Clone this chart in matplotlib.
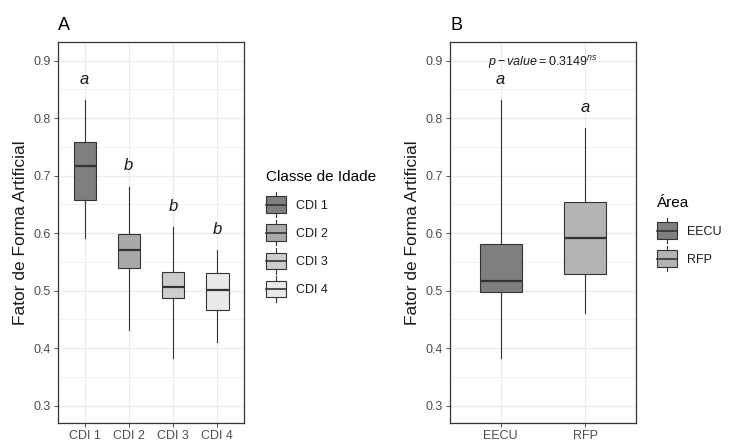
import matplotlib
matplotlib.use("Agg")
import matplotlib.pyplot as plt
from matplotlib.legend_handler import HandlerBase
from matplotlib.patches import Rectangle
from matplotlib.lines import Line2D
from matplotlib.ticker import MultipleLocator

plt.rcParams['font.family'] = ['Liberation Sans', 'DejaVu Sans']
plt.rcParams['mathtext.fontset'] = 'custom'
plt.rcParams['mathtext.rm'] = 'Liberation Sans'
plt.rcParams['mathtext.it'] = 'Liberation Sans:italic'

# ---- data (panel A) ----
classes = ["CDI 1", "CDI 2", "CDI 3", "CDI 4"]
a_whislo = [0.591, 0.432, 0.383, 0.411]
a_q1 = [0.658, 0.539, 0.487, 0.467]
a_med = [0.717, 0.571, 0.507, 0.501]
a_q3 = [0.759, 0.598, 0.532, 0.531]
a_whishi = [0.832, 0.681, 0.611, 0.571]
a_letters = ["a", "b", "b", "b"]
a_colors = ["#7f7f7f", "#a9a9a9", "#cdcdcd", "#e9e9e9"]

# ---- data (panel B) ----
areas = ["EECU", "RFP"]
b_whislo = [0.383, 0.462]
b_q1 = [0.498, 0.529]
b_med = [0.517, 0.591]
b_q3 = [0.582, 0.654]
b_whishi = [0.832, 0.783]
b_letters = ["a", "a"]
b_colors = ["#7f7f7f", "#b3b3b3"]
p_value_text = r'$\mathit{p-value}=0.3149^{\mathit{ns}}$'

y_ticks = [0.3, 0.4, 0.5, 0.6, 0.7, 0.8, 0.9]
ylabel = "Fator de Forma Artificial"

W, H = 729, 443
fig = plt.figure(figsize=(W / 100, H / 100), dpi=100)

EDGE = "#333333"
GRID = "#ebebeb"


class BoxHandler(HandlerBase):
    def __init__(self, color):
        super().__init__()
        self.color = color

    def create_artists(self, legend, orig_handle, xdescent, ydescent, width, height, fontsize, trans):
        cx = -xdescent + width / 2
        cy = -ydescent + height / 2
        h = height * 1.45
        vl = Line2D([cx, cx], [cy - h * 0.75, cy + h * 0.75], color=EDGE, lw=0.8, transform=trans)
        rect = Rectangle((-xdescent, cy - h / 2), width, h, facecolor=self.color, edgecolor=EDGE, lw=0.8,
                         transform=trans)
        ml = Line2D([-xdescent, -xdescent + width], [cy, cy], color=EDGE, lw=1.2, transform=trans)
        return [vl, rect, ml]


def panel(rect, labels, lo, q1, med, q3, hi, colors, letters, tag, legend_title, legend_x, legend_y):
    ax = fig.add_axes(rect)
    n = len(labels)
    stats = []
    for i in range(n):
        stats.append(dict(med=med[i], q1=q1[i], q3=q3[i], whislo=lo[i], whishi=hi[i], fliers=[]))
    pos = list(range(1, n + 1))
    bp = ax.bxp(stats, positions=pos, widths=0.5, patch_artist=True, showcaps=False,
                boxprops=dict(edgecolor=EDGE, linewidth=0.8),
                medianprops=dict(color="#333333", linewidth=1.6),
                whiskerprops=dict(color=EDGE, linewidth=0.8), zorder=3)
    for patch, c in zip(bp['boxes'], colors):
        patch.set_facecolor(c)
    for i in range(n):
        ax.text(pos[i], hi[i] + 0.036, letters[i], ha='center', va='center', style='italic',
                fontsize=12, color='#1a1a1a', zorder=4)
    ax.set_xlim(0.4, n + 0.6)
    ax.set_ylim(0.27, 0.9325)
    ax.set_yticks(y_ticks)
    ax.yaxis.set_minor_locator(MultipleLocator(0.05))
    ax.set_xticks(pos)
    ax.set_xticklabels(labels)
    ax.grid(True, which='major', color=GRID, lw=0.8, zorder=0)
    ax.grid(True, which='minor', axis='y', color=GRID, lw=0.5, zorder=0)
    ax.set_axisbelow(True)
    ax.tick_params(axis='both', which='major', labelsize=9, labelcolor='#4d4d4d', color='#333333',
                   length=3, width=0.6, pad=2)
    ax.tick_params(axis='y', which='minor', length=0)
    for s in ax.spines.values():
        s.set_color('#333333')
        s.set_linewidth(0.9)
    ax.set_ylabel(ylabel, fontsize=12.5, color='#1a1a1a', labelpad=4)
    ax.text(0.0, 1.022, tag, transform=ax.transAxes, fontsize=13, ha='left', va='bottom', color='black')
    handles = [Rectangle((0, 0), 1, 1) for _ in labels]
    hmap = {h: BoxHandler(c) for h, c in zip(handles, colors)}
    leg = fig.legend(handles, labels, handler_map=hmap, title=legend_title, loc='upper left',
                     bbox_to_anchor=(legend_x, legend_y), frameon=False, fontsize=9,
                     title_fontsize=11, handlelength=1.6, handleheight=1.05, labelspacing=1.2,
                     handletextpad=0.8, alignment='left', borderaxespad=0, borderpad=0)
    for t in leg.get_texts():
        t.set_color('#1a1a1a')
    return ax


axA = panel([58 / W, 1 - 423 / H, 186 / W, 381 / H], classes, a_whislo, a_q1, a_med, a_q3, a_whishi,
            a_colors, a_letters, "A", "Classe de Idade", 266 / W, 1 - 170 / H)
axB = panel([450 / W, 1 - 423 / H, 186 / W, 381 / H], areas, b_whislo, b_q1, b_med, b_q3, b_whishi,
            b_colors, b_letters, "B", "Área", 657 / W, 1 - 196 / H)
axB.text(1.5, 0.897, p_value_text, ha='center', va='center', fontsize=9, color='#1a1a1a')

fig.savefig("out.png", dpi=100)
